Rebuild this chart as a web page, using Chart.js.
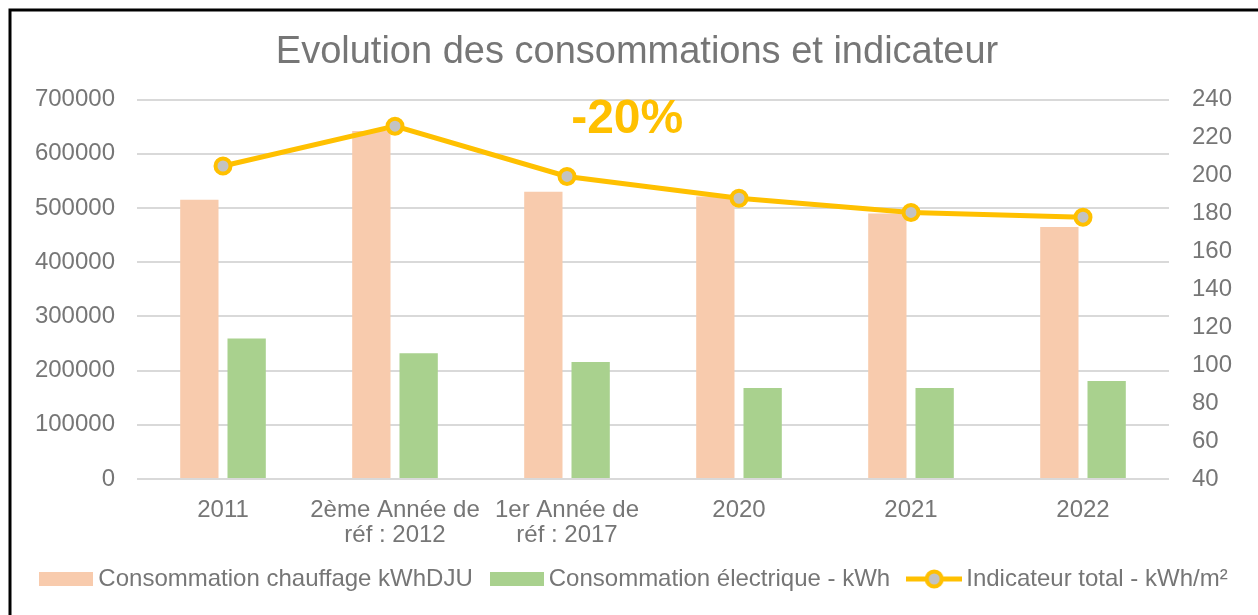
<!DOCTYPE html>
<html>
<head>
<meta charset="utf-8">
<script src="https://cdn.jsdelivr.net/npm/chart.js@4.4.1/dist/chart.umd.min.js"></script>
<style>
  html, body { margin: 0; padding: 0; background: #fff; }
  #wrap { position: absolute; left: 0; top: 0; width: 1258px; height: 615px; }
</style>
</head>
<body>
<div id="wrap"><canvas id="chart" width="1258" height="615"></canvas></div>
<script>
// Data
const categories = ['2011', ['2ème Année de', 'réf : 2012'], ['1er Année de', 'réf : 2017'], '2020', '2021', '2022'];
const chauffage = [515000, 642000, 530000, 521000, 490000, 465000];
const electrique = [259000, 232000, 216000, 168000, 168000, 181000];
const indicateur = [205, 226, 199.5, 188, 180.5, 178];
const leftTicks = [0, 700000, 100000];   // min, max, step
const rightTicks = [40, 240, 20];
const annotationText = '-20%';

const textGray = '#767676';
const fontFamily = '"Liberation Sans", Arial, sans-serif';

// legend icons drawn once on small canvases
function boxIcon(color) {
    const c = document.createElement('canvas');
    c.width = 54; c.height = 14;
    const g = c.getContext('2d');
    g.fillStyle = color;
    g.fillRect(0, 0, 54, 14);
    return c;
}
function lineIcon() {
    const c = document.createElement('canvas');
    c.width = 56; c.height = 22;
    const g = c.getContext('2d');
    g.strokeStyle = '#FFC000';
    g.lineWidth = 5;
    g.beginPath(); g.moveTo(0, 11); g.lineTo(56, 11); g.stroke();
    g.beginPath(); g.arc(28, 11, 7.5, 0, Math.PI * 2);
    g.fillStyle = '#C3C3C3'; g.fill();
    g.lineWidth = 4; g.stroke();
    return c;
}
const legendIcons = [boxIcon('#F8CBAD'), boxIcon('#A9D18E'), lineIcon()];

// white background, frame lines and the -20% note
const decorations = {
    id: 'decorations',
    beforeDraw(chart) {
        const c = chart.ctx;
        c.save();
        c.fillStyle = '#fff';
        c.fillRect(0, 0, chart.width, chart.height);
        c.strokeStyle = '#000';
        c.lineWidth = 3;
        c.beginPath();
        c.moveTo(10, chart.height); c.lineTo(10, 10); c.lineTo(chart.width, 10);
        c.stroke();
        c.restore();
    },
    afterDatasetsDraw(chart) {
        const c = chart.ctx;
        const x = chart.scales.x.getPixelForValue(2.35);
        c.save();
        c.font = 'bold 48px ' + fontFamily;
        c.fillStyle = '#FFC000';
        c.textAlign = 'center';
        c.textBaseline = 'middle';
        c.fillText(annotationText, x, chart.chartArea.top + 20);
        c.restore();
    }
};

const ctx = document.getElementById('chart').getContext('2d');
const chart = new Chart(ctx, {
    type: 'bar',
    data: {
        labels: categories,
        datasets: [
            {
                label: 'Consommation chauffage kWhDJU',
                data: chauffage,
                backgroundColor: '#F8CBAD',
                yAxisID: 'y',
                order: 1,
                categoryPercentage: 0.55,
                barPercentage: 0.81
            },
            {
                label: 'Consommation électrique - kWh',
                data: electrique,
                backgroundColor: '#A9D18E',
                yAxisID: 'y',
                order: 1,
                categoryPercentage: 0.55,
                barPercentage: 0.81
            },
            {
                type: 'line',
                label: 'Indicateur total - kWh/m²',
                data: indicateur,
                borderColor: '#FFC000',
                backgroundColor: '#C3C3C3',
                borderWidth: 5,
                pointRadius: 7.5,
                pointBorderWidth: 4,
                pointBorderColor: '#FFC000',
                pointBackgroundColor: '#C3C3C3',
                tension: 0,
                yAxisID: 'y1',
                order: 0
            }
        ]
    },
    options: {
        responsive: false,
        animation: false,
        layout: { padding: { left: 16, right: 0, top: 0, bottom: 14 } },
        plugins: {
            title: {
                display: true,
                text: 'Evolution des consommations et indicateur',
                color: textGray,
                font: { family: fontFamily, size: 38, weight: 'normal' },
                padding: { top: 30, bottom: 24 }
            },
            legend: {
                position: 'bottom',
                labels: {
                    color: textGray,
                    font: { family: fontFamily, size: 24 },
                    usePointStyle: true,
                    pointStyleWidth: 40,
                    padding: 24,
                    sort: (a, b) => a.datasetIndex - b.datasetIndex,
                    generateLabels(chart) {
                        const items = Chart.defaults.plugins.legend.labels.generateLabels(chart);
                        items.forEach(item => { item.pointStyle = legendIcons[item.datasetIndex]; });
                        return items;
                    }
                }
            },
            tooltip: { enabled: false }
        },
        scales: {
            x: {
                grid: { display: false },
                border: { display: false },
                ticks: {
                    color: textGray,
                    font: { family: fontFamily, size: 24, lineHeight: 1.05 },
                    padding: 11,
                    maxRotation: 0,
                    autoSkip: false
                },
                afterFit(scale) { scale.height = 64; }
            },
            y: {
                position: 'left',
                min: leftTicks[0],
                max: leftTicks[1],
                grid: { color: '#D9D9D9', lineWidth: 2, drawTicks: false },
                border: { display: false },
                ticks: {
                    stepSize: leftTicks[2],
                    color: textGray,
                    font: { family: fontFamily, size: 24 },
                    padding: 22,
                    callback: v => String(v)
                },
                afterFit(scale) { scale.width = 121; }
            },
            y1: {
                position: 'right',
                min: rightTicks[0],
                max: rightTicks[1],
                grid: { display: false, drawTicks: false },
                border: { display: false },
                ticks: {
                    stepSize: rightTicks[2],
                    color: textGray,
                    font: { family: fontFamily, size: 24 },
                    padding: 23
                },
                afterFit(scale) { scale.width = 89; }
            }
        }
    },
    plugins: [decorations]
});
</script>
</body>
</html>
